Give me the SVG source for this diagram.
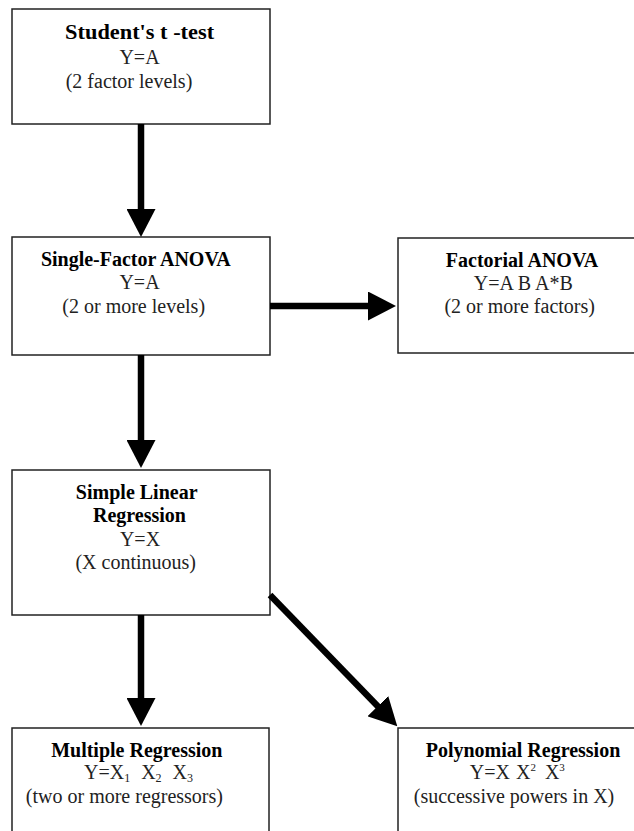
<svg xmlns="http://www.w3.org/2000/svg" width="634" height="831" viewBox="0 0 634 831">
<style>
.box{fill:#fff;stroke:#222;stroke-width:1.5}
.t{font-family:"Liberation Serif","Times New Roman",serif;font-size:20px;text-anchor:middle}
.b{font-weight:bold;fill:#000}
.r{fill:#222}
.conn line{stroke:#000;stroke-width:6.5;fill:none}
</style>
<defs>
<marker id="ah" markerUnits="userSpaceOnUse" viewBox="0 -14.5 28 29" refX="1" refY="0" markerWidth="28" markerHeight="29" orient="auto">
<path d="M0,-14.5 L28,0 L0,14.5 Z" fill="#000"/>
</marker>
</defs>
<rect width="634" height="831" fill="#fff"/>
<g id="node-ttest">
<rect class="box" x="12" y="9" width="258" height="115"/>
<text class="t b" x="139.6" y="39" textLength="149" lengthAdjust="spacingAndGlyphs">Student's t -test</text>
<text class="t r" x="139.5" y="64">Y=A</text>
<text class="t r" x="129" y="88">(2 factor levels)</text>
</g>
<g id="node-anova1">
<rect class="box" x="12" y="237" width="258" height="118"/>
<text class="t b" x="135.8" y="266">Single-Factor ANOVA</text>
<text class="t r" x="139.5" y="289">Y=A</text>
<text class="t r" x="133.7" y="313">(2 or more levels)</text>
</g>
<g id="node-factorial">
<rect class="box" x="398" y="238" width="262" height="115"/>
<text class="t b" x="522" y="266.5">Factorial ANOVA</text>
<text class="t r" x="523.3" y="290">Y=A B A*B</text>
<text class="t r" x="519.7" y="313">(2 or more factors)</text>
</g>
<g id="node-slr">
<rect class="box" x="12" y="470" width="258" height="145"/>
<text class="t b" x="136.7" y="499">Simple Linear</text>
<text class="t b" x="139.5" y="522">Regression</text>
<text class="t r" x="140" y="545.5">Y=X</text>
<text class="t r" x="135.7" y="569">(X continuous)</text>
</g>
<g id="node-multiple">
<rect class="box" x="12" y="728" width="257" height="120"/>
<text class="t b" x="136.8" y="756.5">Multiple Regression</text>
<text class="t r" x="138.5" y="779"><tspan>Y=X</tspan><tspan font-size="12" dy="3">1</tspan><tspan dy="-3" dx="11">X</tspan><tspan font-size="12" dy="3">2</tspan><tspan dy="-3" dx="11">X</tspan><tspan font-size="12" dy="3">3</tspan></text>
<text class="t r" x="124.4" y="803">(two or more regressors)</text>
</g>
<g id="node-polynomial">
<rect class="box" x="398" y="728" width="262" height="120"/>
<text class="t b" x="523" y="756.5">Polynomial Regression</text>
<text class="t r" x="517.3" y="779"><tspan>Y=X</tspan><tspan dx="6">X</tspan><tspan font-size="11" dy="-8">2</tspan><tspan dy="8" dx="9">X</tspan><tspan font-size="11" dy="-8">3</tspan></text>
<text class="t r" x="514" y="803">(successive powers in X)</text>
</g>
<g id="connectors" class="conn">
<line x1="141" y1="124" x2="141" y2="210" marker-end="url(#ah)"/>
<line x1="270" y1="306" x2="369" y2="306" marker-end="url(#ah)"/>
<line x1="141" y1="355" x2="141" y2="441" marker-end="url(#ah)"/>
<line x1="141" y1="615" x2="141" y2="699" marker-end="url(#ah)"/>
<line x1="270" y1="595" x2="378.5" y2="706.9" marker-end="url(#ah)"/>
</g>
</svg>
